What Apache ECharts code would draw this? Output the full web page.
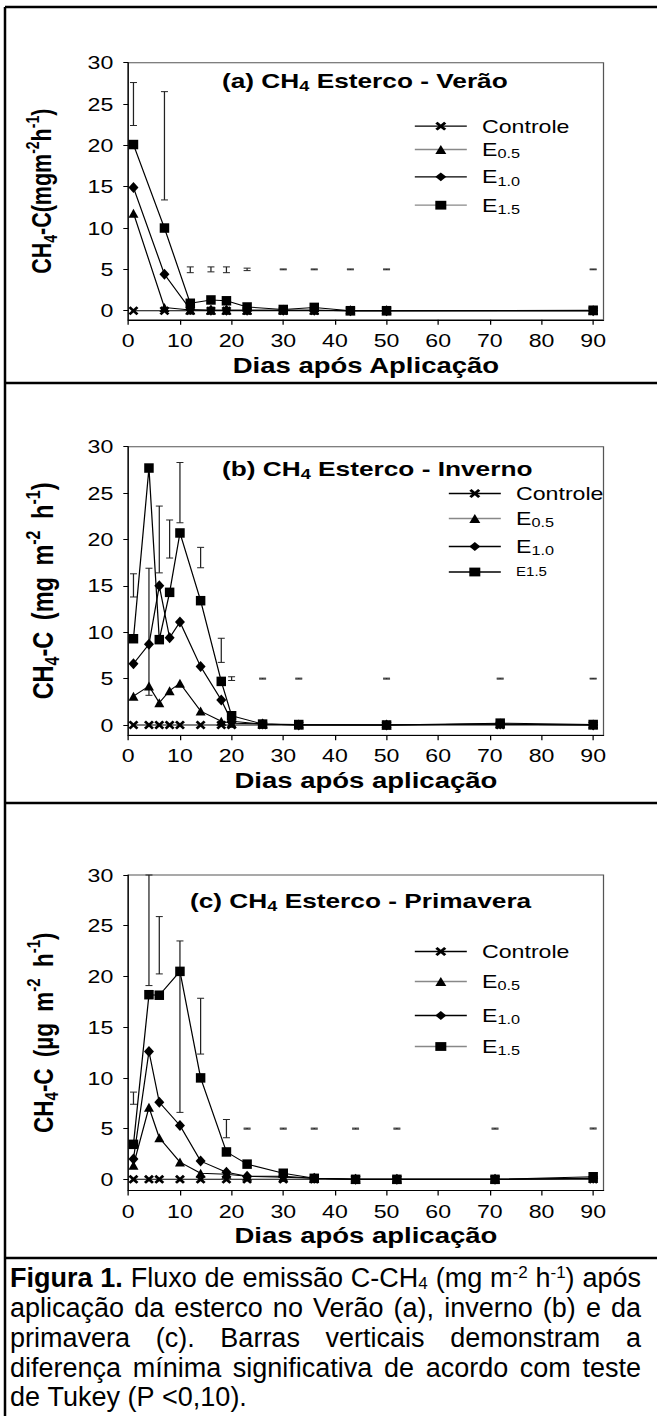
<!DOCTYPE html>
<html>
<head>
<meta charset="utf-8">
<title>CH4 Esterco</title>
<script src="https://cdn.jsdelivr.net/npm/echarts@6.0.0/dist/echarts.min.js"></script>
<style>
html,body{margin:0;padding:0;background:#fff;overflow:hidden;width:657px;height:1416px;}
#chart{position:absolute;left:0;top:0;height:1416px;transform-origin:0 0;}
</style>
</head>
<body>
<div id="chart"></div>
<script>
// ---------------- data ----------------
const xTicks = [0,10,20,30,40,50,60,70,80,90];
const yTicks = [0,5,10,15,20,25,30];

// (a) Verão
const daysA    = [1,7,12,16,19,23,30,36,43,50,90];
const ctrlA    = [0,0,0,0,0,0,0,0,0,0,0];
const e05A     = [11.8,0.4,0.1,0.05,0.05,0.05,0.05,0.05,0,0,0];
const e10A     = [14.9,4.4,0.15,0.05,0.05,0.05,0.05,0.05,0,0,0];
const e15A     = [20.1,10.0,0.9,1.3,1.2,0.45,0.15,0.4,0,0,0.05];
const lsdLowA  = [22.4,13.4,4.6,4.7,4.6,4.85,4.95,4.95,4.95,4.95,4.95];
const lsdHighA = [27.6,26.5,5.3,5.3,5.3,5.15,5.05,5.05,5.05,5.05,5.05];

// (b) Inverno
const daysB    = [1,4,6,8,10,14,18,20,26,33,50,72,90];
const ctrlB    = [0,0,0,0,0,0,0,0,0,0,0,0,0];
const e05B     = [3.1,4.2,2.4,3.7,4.5,1.5,0.4,0.2,0.1,0,0,0.1,0];
const e10B     = [6.6,8.7,15.0,9.4,11.1,6.3,2.7,0.4,0.1,0,0,0.1,0];
const e15B     = [9.3,27.7,9.2,14.3,20.7,13.4,4.7,1.0,0.1,0.05,0,0.2,0.05];
const lsdLowB  = [13.8,3.2,16.4,18.0,21.8,16.95,6.75,4.8,4.95,4.95,4.95,4.95,4.95];
const lsdHighB = [16.3,16.9,23.6,22.1,28.3,19.15,9.35,5.2,5.05,5.05,5.05,5.05,5.05];

// (c) Primavera
const daysC    = [1,4,6,10,14,19,23,30,36,44,52,71,90];
const ctrlC    = [0,0,0,0,0,0,0,0,0,0,0,0,0];
const e05C     = [1.4,7.1,4.1,1.7,0.6,0.5,0.3,0.2,0.1,0,0,0,0.1];
const e10C     = [2.0,12.6,7.6,5.3,1.8,0.7,0.3,0.3,0.1,0,0,0,0.1];
const e15C     = [3.45,18.2,18.15,20.5,10.0,2.7,1.5,0.6,0.1,0,0,0,0.25];
const lsdLowC  = [7.4,19.1,20.25,6.6,12.35,4.1,4.95,4.95,4.95,4.95,4.95,4.95,4.95];
const lsdHighC = [8.6,30.0,25.9,23.5,17.85,5.9,5.05,5.05,5.05,5.05,5.05,5.05,5.05];

const seriesNames = ['Controle','E0.5','E1.0','E1.5'];
const panelTitles = ['(a) CH|4| Esterco - Verão','(b) CH|4| Esterco - Inverno','(c) CH|4| Esterco - Primavera'];
const xNames = ['Dias após Aplicação','Dias após aplicação','Dias após aplicação'];

// ---------------- layout ----------------
const S = 1.25;                // horizontal stretch of the figure
const W = 657 / S;
const fx = v => v / S;
const FONT = '"Liberation Sans", Arial, Helvetica, sans-serif';
const el = document.getElementById('chart');
el.style.width = W + 'px';
el.style.transform = 'scaleX(' + S + ')';

const panels = [
  {days:daysA, vals:[ctrlA,e05A,e10A,e15A], lo:lsdLowA, hi:lsdHighA, top:62.7, h:257.1,
   yName:'{b|CH}{bs|4}{b|-C(mgm}{bp|-2}{b|h}{bp|-1}{b|)}', yFont:21.5, yPad:0,
   titleX:222, titleY:80, legX:414, legRows:[127.7,151,178.3,206.7], legGray:[false,true,false,true], plain15:false},
  {days:daysB, vals:[ctrlB,e05B,e10B,e15B], lo:lsdLowB, hi:lsdHighB, top:446.7, h:288.5,
   yName:'{b|CH}{bs|4}{b|-C }{w|(mg }{w|m}{bp|-2}{w| h}{bp|-1}{b|)}', yFont:23.5, yPad:5,
   titleX:222, titleY:468, legX:448, legRows:[495,520,548,577], legGray:[false,true,false,false], plain15:true},
  {days:daysC, vals:[ctrlC,e05C,e10C,e15C], lo:lsdLowC, hi:lsdHighC, top:875, h:315.5,
   yName:'{b|CH}{bs|4}{b|-C }{w|(µg }{w|m}{bp|-2}{w| h}{bp|-1}{b|)}', yFont:22.5, yPad:5,
   titleX:190, titleY:900, legX:414, legRows:[953,983,1017,1048], legGray:[false,true,false,true], plain15:false}
];

const xPath = 'path://M0,2L2,0L5,3L8,0L10,2L7,5L10,8L8,10L5,7L2,10L0,8L3,5Z';
const symbols = [xPath, 'triangle', 'diamond', 'rect'];
const symSizes = [[fx(10),9],[fx(10),9],[fx(10),11],[fx(9.5),9.5]];

const grids = [], xAxes = [], yAxes = [], series = [], legends = [], graphics = [];

function richY(f, pad){
  const base = {fontWeight:'bold', fontFamily:FONT, color:'#000'};
  return {
    b:Object.assign({fontSize:f, lineHeight:Math.round(f*1.3)}, base),
    w:Object.assign({fontSize:f, lineHeight:Math.round(f*1.3), padding:[0,0,0,pad]}, base),
    bs:Object.assign({fontSize:Math.round(f*0.67), lineHeight:13, verticalAlign:'bottom'}, base),
    bp:Object.assign({fontSize:Math.round(f*0.67), lineHeight:13, verticalAlign:'top'}, base)
  };
}

function lsdRender(params, api){
  const x = api.value(0), lo = api.value(1), hi = api.value(2);
  const p1 = api.coord([x, lo]), p2 = api.coord([x, hi]);
  const hw = fx(3.5);
  const st = {stroke:'#222', lineWidth:1};
  return {type:'group', children:[
    {type:'line', shape:{x1:p1[0], y1:p1[1], x2:p2[0], y2:p2[1]}, style:st},
    {type:'line', shape:{x1:p1[0]-hw, y1:p1[1], x2:p1[0]+hw, y2:p1[1]}, style:st},
    {type:'line', shape:{x1:p2[0]-hw, y1:p2[1], x2:p2[0]+hw, y2:p2[1]}, style:st}
  ]};
}

const legendLabel = {};
panels.forEach((p, i) => {
  grids.push({left:fx(128.3), width:fx(475.2), top:p.top, height:p.h, show:true,
              borderColor:'#555', borderWidth:1, backgroundColor:'transparent',
              containLabel:false, outerBoundsMode:'none'});
  xAxes.push({type:'value', gridIndex:i, min:0, max:92,
    axisLine:{show:true, onZero:false, lineStyle:{color:'#000', width:1}},
    axisTick:{show:true, customValues:xTicks, length:5, lineStyle:{color:'#000'}},
    axisLabel:{customValues:xTicks, fontSize:18.5, color:'#000', margin:11, fontFamily:FONT},
    splitLine:{show:false},
    name:xNames[i], nameLocation:'middle', nameGap:34,
    nameTextStyle:{fontWeight:'bold', fontSize:22, color:'#000', fontFamily:FONT}});
  yAxes.push({type:'value', gridIndex:i, min:-1.1, max:30,
    axisLine:{show:true, onZero:false, lineStyle:{color:'#000', width:1}},
    axisTick:{show:true, customValues:yTicks, length:4, lineStyle:{color:'#000'}},
    axisLabel:{customValues:yTicks, fontSize:18.5, color:'#000', margin:12, fontFamily:FONT},
    splitLine:{show:false},
    name:p.yName, nameLocation:'middle', nameRotate:90, nameGap:55 - (p.yFont - 21.5),
    nameTextStyle:{rich:richY(p.yFont, p.yPad)}});

  series.push({type:'custom', name:'LSD '+i, xAxisIndex:i, yAxisIndex:i, silent:true, z:1,
    data:p.days.map((d,k)=>[d, p.lo[k], p.hi[k]]), encode:{x:0, y:[1,2]}, renderItem:lsdRender});

  seriesNames.forEach((sn, j) => {
    const nm = sn + ' ' + 'abc'[i];
    series.push({type:'line', name:nm, xAxisIndex:i, yAxisIndex:i, z:2+j,
      data:p.days.map((d,k)=>[d, p.vals[j][k]]),
      symbol:symbols[j], symbolSize:symSizes[j], showSymbol:true,
      lineStyle:{color:'#000', width:1}, itemStyle:{color:'#000'}});
    let lbl;
    if (j === 0) lbl = '{m|Controle}';
    else if (j === 3 && p.plain15) lbl = '{t|E1.5}';
    else lbl = '{m|E}{s|' + sn.slice(1) + '}';
    legendLabel[nm] = lbl;
    legends.push({show:true, orient:'vertical', left:fx(p.legX), top:p.legRows[j]-11,
      itemWidth:fx(52), itemHeight:11, padding:0, selectedMode:false,
      data:[{name:nm, lineStyle:{color:p.legGray[j] ? '#888' : '#000', width:1.3}, itemStyle:{color:'#000'}}],
      formatter:n => legendLabel[n],
      textStyle:{rich:{
        m:{fontSize:18.5, fontFamily:FONT, color:'#000', lineHeight:22, padding:[0,0,0,fx(9)]},
        s:{fontSize:13, fontFamily:FONT, color:'#000', lineHeight:10, verticalAlign:'bottom'},
        t:{fontSize:12, fontFamily:FONT, color:'#000', lineHeight:22, padding:[0,0,0,fx(9)]}
      }}});
  });

  const tp = panelTitles[i].split('|');
  graphics.push({type:'text', x:fx(p.titleX), y:p.titleY, silent:true,
    style:{text:'{b|'+tp[0]+'}{s|'+tp[1]+'}{b|'+tp[2]+'}', align:'left', verticalAlign:'middle',
      rich:{b:{fontSize:21, fontWeight:'bold', fontFamily:FONT, fill:'#000', color:'#000', lineHeight:26},
            s:{fontSize:14.5, fontWeight:'bold', fontFamily:FONT, fill:'#000', color:'#000', lineHeight:12, verticalAlign:'bottom'}}}});
});

// frame lines
const frameY = [7, 383, 803, 1258];
frameY.forEach(y => graphics.push({type:'line', silent:true,
  shape:{x1:fx(5), y1:y, x2:W+5, y2:y}, style:{stroke:'#000', lineWidth:2.5}}));
graphics.push({type:'line', silent:true, shape:{x1:fx(5), y1:7, x2:fx(5), y2:1420}, style:{stroke:'#000', lineWidth:2}});

// caption (justified)
const CAP = 27, CAPS = 17, CAP_SX = 0.8;
const capLines = [
  [[['b','Figura']],[['b','1.']],[['n','Fluxo']],[['n','de']],[['n','emissão']],[['n','C-CH'],['sub','4']],
   [['n','(mg']],[['n','m'],['sup','-2']],[['n','h'],['sup','-1'],['n',')']],[['n','após']]],
  'aplicação da esterco no Verão (a), inverno (b) e da',
  'primavera (c). Barras verticais demonstram a',
  'diferença mínima significativa de acordo com teste',
  'de Tukey (P <0,10).'
];
const capY = [1278, 1308, 1338, 1368, 1397];
const ctx = document.createElement('canvas').getContext('2d');
function segW(seg){
  const bold = seg[0] === 'b';
  const size = (seg[0] === 'sub' || seg[0] === 'sup') ? CAPS : CAP;
  ctx.font = (bold ? 'bold ' : '') + size + 'px "Liberation Sans", Arial, sans-serif';
  return ctx.measureText(seg[1]).width;
}
const capRich = {
  n:{fontSize:CAP, fontFamily:FONT, fill:'#000', color:'#000', lineHeight:28},
  b:{fontSize:CAP, fontFamily:FONT, fontWeight:'bold', fill:'#000', color:'#000', lineHeight:28},
  sub:{fontSize:CAPS, fontFamily:FONT, fill:'#000', color:'#000', lineHeight:14, verticalAlign:'bottom'},
  sup:{fontSize:CAPS, fontFamily:FONT, fill:'#000', color:'#000', lineHeight:14, verticalAlign:'top'}
};
const L = 10, R = 641;
capLines.forEach((line, li) => {
  const words = typeof line === 'string' ? line.split(' ').map(w => [['n', w]]) : line;
  const widths = words.map(w => w.reduce((a, s) => a + segW(s), 0) * CAP_SX * S);
  const sum = widths.reduce((a, b) => a + b, 0);
  const sp = segW(['n',' ']) * CAP_SX * S;
  const justify = li < capLines.length - 1;
  let gap = justify ? (R - L - sum) / (words.length - 1) : sp;
  if (gap < sp * 0.6) gap = sp * 0.6;
  let x = L;
  words.forEach((w, k) => {
    graphics.push({type:'text', x:fx(x), y:capY[li], scaleX:CAP_SX, silent:true,
      style:{text:w.map(s => '{' + s[0] + '|' + s[1] + '}').join(''), align:'left', verticalAlign:'middle', rich:capRich}});
    x += widths[k] + gap;
  });
});

const chart = echarts.init(el, null, {renderer:'svg', width:W, height:1416});
chart.setOption({
  animation:false,
  backgroundColor:'#fff',
  grid:grids, xAxis:xAxes, yAxis:yAxes, series:series, legend:legends,
  graphic:{elements:graphics}
});
</script>
</body>
</html>
